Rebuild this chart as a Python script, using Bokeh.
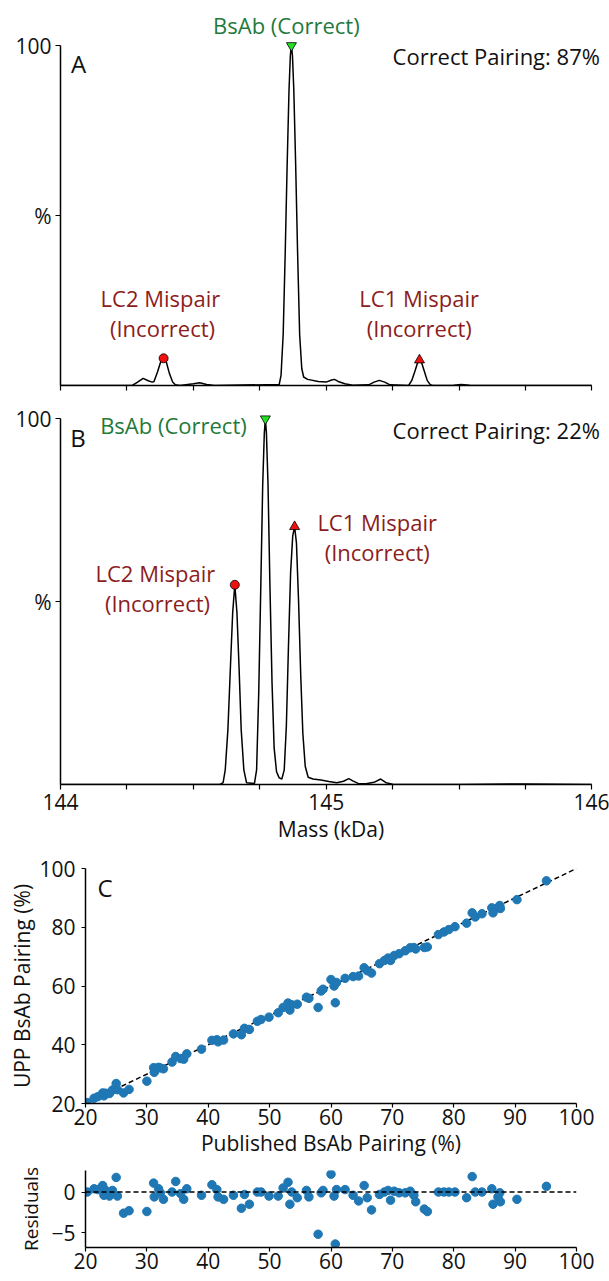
from bokeh.plotting import figure
from bokeh.models import Range1d, FixedTicker, Label, Span
from bokeh.layouts import column
from bokeh.embed import file_html
from bokeh.resources import INLINE

FONT = "Open Sans"
GREEN_TXT = "#1f7a3c"
RED_TXT = "#8c1d1d"
DOT = "#1f77b4"

# ---------------- data ----------------
# Panel A deconvoluted spectrum (mass kDa, relative intensity %)
mass_a = [144.0, 144.27, 144.29, 144.311, 144.33, 144.345, 144.352, 144.365, 144.378,
          144.388, 144.398, 144.41, 144.422, 144.432, 144.45, 144.50, 144.524, 144.55,
          144.58, 144.823, 144.830, 144.838, 144.846, 144.853, 144.860, 144.865, 144.869,
          144.873, 144.878, 144.885, 144.892, 144.900, 144.908, 144.915, 144.93, 144.97,
          145.00, 145.02, 145.031, 145.045, 145.07, 145.10, 145.16, 145.18, 145.20, 145.22,
          145.24, 145.31, 145.322, 145.335, 145.345, 145.351, 145.358, 145.368, 145.38,
          145.392, 145.40, 145.48, 145.508, 145.54, 145.60, 146.0]
int_a = [0, 0, 1.0, 2.1, 1.4, 1.0, 1.2, 4.0, 7.2,
         8.0, 7.0, 3.5, 1.0, 0.2, 0, 0.5, 0.8, 0.3,
         0, 0.3, 3, 15, 40, 65, 87, 97, 100,
         97, 87, 65, 40, 15, 5, 2.5, 1.8, 1.2,
         1.0, 1.6, 1.8, 1.2, 0.5, 0.1, 0.2, 1.0, 1.5, 1.0,
         0.2, 0, 1.5, 4.5, 7.0, 7.5, 7.0, 4.5, 1.5,
         0.2, 0, 0.1, 0.3, 0.1, 0, 0]

# Panel B deconvoluted spectrum
mass_b = [144.0, 144.60, 144.612, 144.62, 144.63, 144.64, 144.648, 144.656, 144.664,
          144.672, 144.68, 144.69, 144.70, 144.73, 144.738, 144.746, 144.754, 144.761,
          144.767, 144.771, 144.775, 144.781, 144.788, 144.796, 144.804, 144.813, 144.823,
          144.833, 144.842, 144.85, 144.858, 144.866, 144.874, 144.881, 144.888, 144.896,
          144.904, 144.912, 144.921, 144.932, 144.95, 144.98, 145.01, 145.04, 145.065,
          145.085, 145.10, 145.12, 145.15, 145.18, 145.205, 145.225, 145.25, 145.5,
          145.75, 146.0]
int_b = [0, 0, 0.5, 4, 15, 33, 47, 54.6, 47,
         32, 15, 4, 0.5, 0.3, 4, 25, 55, 82,
         96, 100, 96, 82, 55, 28, 10, 3.5, 1.8,
         1.5, 4, 16, 38, 58, 68, 70.5, 66, 50,
         30, 14, 5, 2, 1.5, 1.2, 0.8, 0.5, 0.9,
         1.6, 1.0, 0.3, 0.2, 0.6, 1.5, 0.5, 0.1, 0,
         0.15, 0]

# annotated peaks: [BsAb (correct), LC2 mispair, LC1 mispair]
peak_mass_a = [144.869, 144.388, 145.351]
peak_int_a = [100, 8.0, 7.5]
peak_mass_b = [144.771, 144.656, 144.881]
peak_int_b = [100, 54.6, 70.5]
correct_pairing = [87, 22]

mass_ticks = [144.0, 144.25, 144.5, 144.75, 145.0, 145.25, 145.5, 145.75, 146.0]
mass_labels = {144.0: "144", 145.0: "145", 146.0: "146"}

# Panel C: published vs UPP BsAb pairing (%)
published = [20.3, 21.4, 22.0, 22.8, 23.0, 23.3, 23.9, 24.4, 25.0, 25.2, 26.2, 27.1,
             30.0, 31.1, 31.2, 31.9, 32.2, 32.7, 34.1, 34.7, 35.5, 36.0, 36.5, 38.9,
             40.6, 41.4, 41.6, 42.5, 44.1, 45.4, 45.9, 46.7, 48.0, 48.6, 49.9, 51.4,
             52.2, 53.0, 53.3, 53.6, 54.5, 56.0, 56.4, 57.9, 58.4, 58.7, 60.0, 60.5,
             60.7, 60.9, 62.3, 63.6, 64.5, 65.4, 65.9, 66.6, 67.9, 68.7, 69.3, 69.7,
             70.3, 71.1, 72.1, 72.9, 73.5, 73.8, 75.2, 75.7, 77.5, 78.4, 79.2, 80.2,
             82.1, 83.0, 83.5, 84.6, 86.2, 86.4, 87.2, 87.5, 87.6, 90.3, 95.1]
upp = [20.3, 21.8, 22.3, 23.6, 22.6, 23.5, 23.4, 24.6, 26.8, 24.7, 23.6, 24.8,
       27.6, 32.2, 30.6, 32.3, 32.1, 31.8, 34.1, 36.0, 35.3, 35.1, 36.9, 38.5,
       41.5, 41.7, 41.0, 41.6, 43.7, 43.4, 45.6, 45.2, 48.0, 48.6, 49.4, 50.9,
       52.7, 54.2, 51.8, 53.6, 53.8, 56.2, 55.8, 52.7, 58.3, 58.9, 62.2, 60.0,
       54.3, 61.2, 62.6, 63.2, 63.4, 66.2, 65.2, 64.4, 67.6, 68.7, 69.5, 68.7,
       70.4, 71.0, 72.0, 73.0, 73.1, 72.6, 73.1, 73.3, 77.5, 78.4, 79.2, 80.2,
       81.4, 84.9, 83.5, 84.6, 86.6, 84.9, 86.6, 87.4, 86.4, 89.4, 95.8]
residuals = [0.0, 0.4, 0.3, 0.8, -0.4, 0.2, -0.5, 0.2, 1.8, -0.5, -2.6, -2.3,
             -2.4, 1.1, -0.6, 0.4, -0.1, -0.9, 0.0, 1.3, -0.2, -0.9, 0.4, -0.4,
             0.9, 0.3, -0.6, -0.9, -0.4, -2.0, -0.3, -1.5, 0.0, 0.0, -0.5, -0.5,
             0.5, 1.2, -1.5, 0.0, -0.7, 0.2, -0.6, -5.2, -0.1, 0.2, 2.2, -0.5,
             -6.4, 0.3, 0.3, -0.4, -1.1, 0.8, -0.7, -2.2, -0.3, 0.0, 0.2, -1.0,
             0.1, -0.1, -0.1, 0.1, -0.4, -1.2, -2.1, -2.4, 0.0, 0.0, 0.0, 0.0,
             -0.7, 1.9, 0.0, 0.0, 0.4, -1.5, -0.6, -0.1, -1.2, -0.9, 0.7]
identity = [20, 100]
pct_ticks = [20, 40, 60, 80, 100]
pub_ticks = [20, 30, 40, 50, 60, 70, 80, 90, 100]
res_ticks = [-5, 0]


def style_axis(ax, size="21px", tick_out=5, standoff=4):
    ax.axis_line_width = 1.5
    ax.axis_line_color = "black"
    ax.major_tick_line_width = 1.2
    ax.major_tick_out = tick_out
    ax.major_tick_in = 0
    ax.minor_tick_out = 0
    ax.minor_tick_in = 0
    ax.major_label_text_font = FONT
    ax.major_label_text_font_size = size
    ax.major_label_text_color = "#111111"
    ax.major_label_standoff = standoff
    ax.axis_label_text_font = FONT
    ax.axis_label_text_font_size = size
    ax.axis_label_text_font_style = "normal"
    ax.axis_label_text_color = "#111111"


def add_text(p, x, y, txt, color="#111111", align="center", size="22px"):
    p.add_layout(Label(x=x, y=y, text=txt, text_color=color, text_align=align,
                       text_baseline="middle", text_font=FONT, text_font_size=size))


def base_fig(fw, fh, xr, yr, left, right, top, bottom):
    p = figure(frame_width=fw, frame_height=fh, x_range=xr, y_range=yr,
               output_backend="svg", toolbar_location=None,
               min_border_left=left, min_border_right=right, min_border_top=top,
               min_border_bottom=bottom, frame_align=False)
    p.outline_line_color = None
    p.grid.visible = False
    return p


def spectrum(mass, inten, pk_m, pk_i, fh, ytop, top, bottom, show_labels):
    p = base_fig(541, fh, Range1d(144, 146.036), Range1d(0, ytop), 60, 8, top, bottom)
    p.line(mass, inten, color="black", line_width=1.5)
    p.scatter([pk_m[0]], [pk_i[0]], marker="inverted_triangle", size=10,
              fill_color="#22e022", line_color="black", line_width=0.8)
    p.scatter([pk_m[1]], [pk_i[1]], marker="circle", size=9,
              fill_color="#ee1111", line_color="black", line_width=0.8)
    p.scatter([pk_m[2]], [pk_i[2]], marker="triangle", size=10,
              fill_color="#ee1111", line_color="black", line_width=0.8)
    xa = p.xaxis[0]
    ya = p.yaxis[0]
    style_axis(xa)
    style_axis(ya)
    xa.ticker = FixedTicker(ticks=mass_ticks)
    xa.bounds = (144, 146)
    if show_labels:
        xa.major_label_overrides = {t: mass_labels.get(t, "") for t in mass_ticks}
        xa.major_label_standoff = 4
        xa.axis_label = "Mass (kDa)"
        xa.axis_label_standoff = 2
    else:
        xa.major_label_overrides = {t: "" for t in mass_ticks}
        xa.major_label_text_font_size = "1px"
        xa.major_label_standoff = 0
    ya.ticker = FixedTicker(ticks=[50, 100])
    ya.major_label_overrides = {50: "%", 100: "100"}
    ya.bounds = (0, 100)
    return p


# ---------------- panel A ----------------
pA = spectrum(mass_a, int_a, peak_mass_a, peak_int_a, 377, 110.9, 8, 10, False)
add_text(pA, 144.068, 94.7, "A", size="24px")
add_text(pA, 144.85, 105.9, "BsAb (Correct)", GREEN_TXT)
add_text(pA, 146.03, 96.8, f"Correct Pairing: {correct_pairing[0]}%", align="right")
add_text(pA, 144.376, 25.6, "LC2 Mispair", RED_TXT)
add_text(pA, 144.384, 16.8, "(Incorrect)", RED_TXT)
add_text(pA, 145.35, 25.6, "LC1 Mispair", RED_TXT)
add_text(pA, 145.35, 16.8, "(Incorrect)", RED_TXT)

# ---------------- panel B ----------------
pB = spectrum(mass_b, int_b, peak_mass_b, peak_int_b, 389, 106.37, 0, 68, True)
add_text(pB, 144.066, 95.0, "B", size="24px")
add_text(pB, 144.425, 98.2, "BsAb (Correct)", GREEN_TXT)
add_text(pB, 146.03, 96.8, f"Correct Pairing: {correct_pairing[1]}%", align="right")
add_text(pB, 145.192, 71.7, "LC1 Mispair", RED_TXT)
add_text(pB, 145.192, 63.6, "(Incorrect)", RED_TXT)
add_text(pB, 144.357, 57.8, "LC2 Mispair", RED_TXT)
add_text(pB, 144.365, 49.6, "(Incorrect)", RED_TXT)

# ---------------- panel C ----------------
pC = base_fig(491, 235, Range1d(20, 100), Range1d(20, 100), 85, 33, 16, 64)
pC.line(identity, identity, color="black", line_width=1.5, line_dash="5 3")
pC.scatter(published, upp, size=8.5, fill_color=DOT, line_color=DOT)
style_axis(pC.xaxis[0], tick_out=4, standoff=1)
style_axis(pC.yaxis[0], tick_out=4, standoff=6)
pC.xaxis[0].ticker = FixedTicker(ticks=pub_ticks)
pC.yaxis[0].ticker = FixedTicker(ticks=pct_ticks)
pC.xaxis[0].axis_label = "Published BsAb Pairing (%)"
pC.yaxis[0].axis_label = "UPP BsAb Pairing (%)"
pC.xaxis[0].axis_label_standoff = 1
pC.yaxis[0].axis_label_standoff = 0
add_text(pC, 23.2, 93.7, "C", size="24px")

# ---------------- residuals ----------------
pR = base_fig(491, 77, Range1d(20, 100), Range1d(-6.83, 2.65), 85, 33, 3, 34)
pR.add_layout(Span(location=0, dimension="width", line_color="black", line_width=1.5,
                   line_dash="5 3"))
pR.scatter(published, residuals, size=8.5, fill_color=DOT, line_color=DOT)
style_axis(pR.xaxis[0], tick_out=4, standoff=1)
style_axis(pR.yaxis[0], tick_out=4, standoff=6)
pR.xaxis[0].ticker = FixedTicker(ticks=pub_ticks)
pR.yaxis[0].ticker = FixedTicker(ticks=res_ticks)
pR.yaxis[0].major_label_overrides = {-5: "\u22125", 0: "0"}
pR.yaxis[0].axis_label = "Residuals"
pR.yaxis[0].axis_label_text_font_size = "19px"
pR.yaxis[0].axis_label_standoff = 4

layout = column(pA, pB, pC, pR, spacing=0)
open("out.html", "w").write(file_html(layout, INLINE))
